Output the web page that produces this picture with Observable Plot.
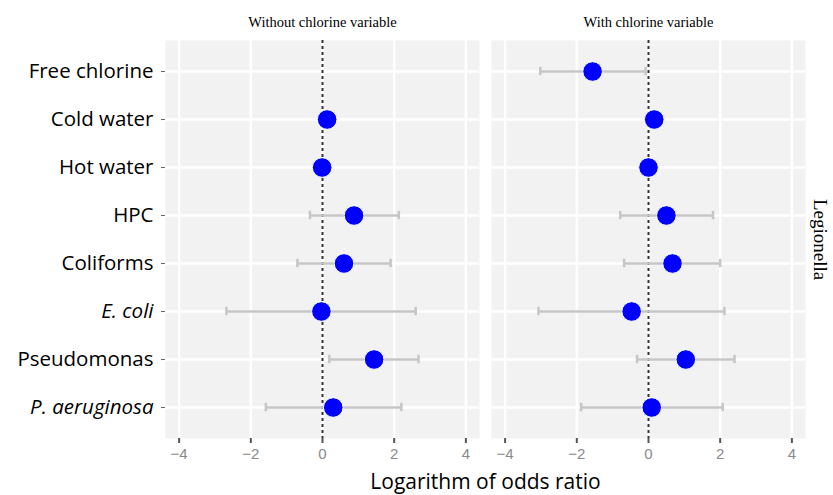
<!DOCTYPE html>
<html><head><meta charset="utf-8">
<script src="https://cdn.jsdelivr.net/npm/d3@7"></script>
<script src="https://cdn.jsdelivr.net/npm/@observablehq/plot@0.6"></script>
<style>body{margin:0;background:#fff}</style>
</head><body><div id="chart"></div>
<script>
const categories = ["Free chlorine","Cold water","Hot water","HPC","Coliforms","E. coli","Pseudomonas","P. aeruginosa"];
const italicCategories = ["E. coli","P. aeruginosa"];
const models = ["Without chlorine variable","With chlorine variable"];
const outcome = ["Legionella"];
const xTicks = [-4,-2,0,2,4];
const xLabel = "Logarithm of odds ratio";

const withoutEst  = [null, 0.13, -0.01, 0.88, 0.60, -0.03, 1.44, 0.30];
const withoutLow  = [null, null, null, -0.35, -0.70, -2.68, 0.19, -1.58];
const withoutHigh = [null, null, null, 2.13, 1.90, 2.60, 2.68, 2.20];
const withEst  = [-1.56, 0.16, 0.00, 0.50, 0.67, -0.47, 1.04, 0.09];
const withLow  = [-3.02, null, null, -0.79, -0.68, -3.07, -0.32, -1.88];
const withHigh = [-0.08, null, null, 1.80, 2.00, 2.12, 2.40, 2.07];

const series = [[withoutEst, withoutLow, withoutHigh],[withEst, withLow, withHigh]];
const rows = [];
models.forEach((m, mi) => categories.forEach((c, ci) => {
  const [e, l, h] = series[mi];
  if (e[ci] != null) rows.push({model: m, outcome: outcome[0], cat: c, est: e[ci], low: l[ci], high: h[ci]});
}));
const ciRows = rows.filter(d => d.low != null);

const sans = "Open Sans";
const serif = "Liberation Serif";
const capInset = 19.8;

const plot = Plot.plot({
  width: 833, height: 495,
  marginLeft: 165, marginRight: 28, marginTop: 40, marginBottom: 57,
  style: {fontFamily: sans, background: "white"},
  x: {domain: [-4.38, 4.38]},
  y: {type: "band", domain: categories, paddingInner: 0, paddingOuter: 0.1},
  fx: {domain: models, paddingInner: 0.037, paddingOuter: 0},
  fy: {domain: outcome, padding: 0},
  marks: [
    Plot.frame({fill: "#f2f2f2", stroke: null}),
    Plot.ruleX(xTicks, {stroke: "white", strokeWidth: 2.5}),
    Plot.ruleY(categories, {stroke: "white", strokeWidth: 2.5}),
    Plot.ruleX([0], {stroke: "#333", strokeWidth: 2, strokeDasharray: "3,3"}),
    Plot.ruleY(ciRows, {y: "cat", x1: "low", x2: "high", fx: "model", fy: "outcome", stroke: "#c6c6c6", strokeWidth: 2.5}),
    Plot.tickX(ciRows, {y: "cat", x: "low", fx: "model", fy: "outcome", stroke: "#c6c6c6", strokeWidth: 2.5, insetTop: capInset, insetBottom: capInset}),
    Plot.tickX(ciRows, {y: "cat", x: "high", fx: "model", fy: "outcome", stroke: "#c6c6c6", strokeWidth: 2.5, insetTop: capInset, insetBottom: capInset}),
    Plot.dot(rows, {x: "est", y: "cat", fx: "model", fy: "outcome", r: 9.8, fill: "#0000ff", stroke: "white", strokeWidth: 1}),
    Plot.axisX({ticks: xTicks, tickSize: 5, tickPadding: 5, fontSize: 15, label: null, stroke: "#555", fill: "#8a8a8a", strokeWidth: 2, fontFamily: "Liberation Sans"}),
    Plot.axisY({tickSize: 4, tickPadding: 8, fontSize: 20.5, label: null, stroke: "#666", fill: "black", fontFamily: sans}),
    Plot.axisFx({anchor: "top", label: null, tickSize: 0, tickPadding: 14, fontSize: 14.5, fontFamily: serif, fill: "black"}),
    Plot.axisFx({anchor: "bottom", tickSize: 0, tickFormat: () => "", label: xLabel, labelAnchor: "center", labelOffset: 50, fontSize: 21, fontFamily: sans, fill: "black"}),
    Plot.axisFy({anchor: "right", label: null, tickSize: 0, tickPadding: 22, tickRotate: 90, fontSize: 19, fontFamily: serif, fill: "black"})
  ]
});
d3.select(plot).selectAll("text").each(function() {
  if (italicCategories.includes(this.textContent)) this.setAttribute("font-style", "italic");
});
document.getElementById("chart").append(plot);
</script>
</body></html>
